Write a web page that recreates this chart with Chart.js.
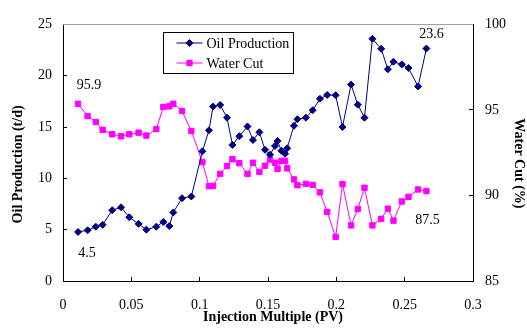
<!DOCTYPE html>
<html>
<head>
<meta charset="utf-8">
<script src="https://cdn.jsdelivr.net/npm/chart.js@4"></script>
<style>
  body { margin: 0; background: #fff; }
</style>
</head>
<body>
<canvas id="chart" width="527" height="334"></canvas>
<script>
// Data
var pvValues = [0.011, 0.018, 0.024, 0.029, 0.036, 0.0425, 0.0485, 0.0553, 0.061, 0.0683,
    0.0734, 0.0778, 0.0807, 0.0871, 0.0939, 0.102, 0.1068, 0.1098, 0.115, 0.12,
    0.124, 0.129, 0.135, 0.139, 0.1437, 0.1478, 0.1515, 0.1551, 0.157, 0.1598,
    0.1625, 0.164, 0.169, 0.1715, 0.1777, 0.1827, 0.188, 0.1933, 0.1995, 0.2045,
    0.2108, 0.2157, 0.2206, 0.2264, 0.2328, 0.2377, 0.2418, 0.2479, 0.2528, 0.2598, 0.2659];

var oilProduction = [4.78, 4.94, 5.29, 5.48, 6.90, 7.18, 6.21, 5.57, 5.00, 5.29,
    5.76, 5.35, 6.68, 8.07, 8.23, 12.63, 14.68, 16.99, 17.15, 15.91,
    13.26, 14.11, 15.06, 13.73, 14.49, 12.78, 12.31, 13.16, 13.64, 12.69,
    12.40, 12.94, 15.12, 15.76, 15.91, 16.64, 17.75, 18.13, 18.10, 15.00,
    19.14, 17.18, 15.91, 23.60, 22.62, 20.63, 21.36, 21.10, 20.75, 18.95, 22.65];

var waterCut = [95.36, 94.64, 94.30, 93.84, 93.58, 93.46, 93.58, 93.67, 93.50, 93.88,
    95.17, 95.21, 95.36, 94.94, 93.77, 91.95, 90.54, 90.56, 91.26, 91.72,
    92.12, 91.89, 91.26, 91.91, 91.38, 91.74, 92.10, 91.91, 91.55, 92.02,
    92.02, 91.59, 90.94, 90.60, 90.68, 90.62, 90.18, 89.04, 87.58, 90.66,
    88.25, 89.21, 90.45, 88.25, 88.63, 89.23, 88.53, 89.65, 89.92, 90.35, 90.26];

var seriesNames = ['Oil Production', 'Water Cut'];
var xTitle = 'Injection Multiple (PV)';
var yTitle = 'Oil Production (t/d)';
var y2Title = 'Water Cut (%)';

// value labels written next to points: text, dataset, point index
var noteTexts = ['95.9', '4.5', '23.6', '87.5'];
var noteSeries = [1, 0, 0, 1];
var notePoints = [0, 0, 50, 50];

var serif = "'Liberation Serif', 'Times New Roman', serif";

function toPoints(xs, ys) {
    var pts = [];
    for (var i = 0; i < xs.length; i++) {
        pts.push({x: xs[i], y: ys[i]});
    }
    return pts;
}

// gray top frame line
var frameTop = {
    id: 'frameTop',
    beforeDatasetsDraw: function(chart) {
        var a = chart.chartArea, ctx = chart.ctx;
        ctx.save();
        ctx.strokeStyle = '#a0a0a0';
        ctx.lineWidth = 1;
        ctx.beginPath();
        ctx.moveTo(a.left, Math.round(a.top) + 0.5);
        ctx.lineTo(a.right, Math.round(a.top) + 0.5);
        ctx.stroke();
        ctx.restore();
    }
};

// axis titles, value notes and the boxed legend
var extras = {
    id: 'extras',
    afterDraw: function(chart) {
        var ctx = chart.ctx, a = chart.chartArea;
        ctx.save();
        ctx.fillStyle = '#000';
        ctx.textAlign = 'center';
        ctx.textBaseline = 'middle';

        ctx.font = 'bold 14px ' + serif;
        ctx.fillText(xTitle, a.left + 210, a.bottom + 36);
        ctx.save();
        ctx.translate(18, a.top + 140);
        ctx.rotate(-Math.PI / 2);
        ctx.fillText(yTitle, 0, 0);
        ctx.restore();
        ctx.save();
        ctx.translate(519, a.top + 139);
        ctx.rotate(Math.PI / 2);
        ctx.fillText(y2Title, 0, 0);
        ctx.restore();

        // notes
        var offs = [[11, -18], [9, 21], [5, -14], [1, 29]];
        ctx.font = '14px ' + serif;
        for (var i = 0; i < noteTexts.length; i++) {
            var p = chart.getDatasetMeta(noteSeries[i]).data[notePoints[i]];
            ctx.fillText(noteTexts[i], p.x + offs[i][0], p.y + offs[i][1]);
        }

        // legend
        var bx = Math.round(a.left + 100) + 0.5, by = Math.round(a.top + 8) + 0.5;
        ctx.fillStyle = '#fff';
        ctx.fillRect(bx, by, 130, 41);
        ctx.strokeStyle = '#000';
        ctx.lineWidth = 1;
        ctx.strokeRect(bx, by, 130, 41);
        ctx.textAlign = 'left';
        chart.data.datasets.forEach(function(ds, k) {
            var ry = by + 10.5 + k * 20;
            ctx.strokeStyle = ds.borderColor;
            ctx.beginPath();
            ctx.moveTo(bx + 13, ry);
            ctx.lineTo(bx + 39, ry);
            ctx.stroke();
            ctx.fillStyle = ds.pointBackgroundColor;
            Chart.helpers.drawPoint(ctx, {pointStyle: ds.pointStyle, radius: ds.pointRadius, rotation: 0, borderWidth: 1}, bx + 26, ry);
            ctx.fillStyle = '#000';
            ctx.fillText(ds.label, bx + 43, ry + 1);
        });
        ctx.restore();
    }
};

var ctx = document.getElementById('chart');

var myChart = new Chart(ctx, {
    type: 'line',
    data: {
        datasets: [
            {
                label: seriesNames[0],
                data: toPoints(pvValues, oilProduction),
                yAxisID: 'y',
                borderColor: '#000080',
                backgroundColor: '#000080',
                pointBackgroundColor: '#000080',
                pointBorderColor: '#000080',
                pointStyle: 'rectRot',
                pointRadius: 3.5,
                pointBorderWidth: 1,
                borderWidth: 1,
                fill: false,
                tension: 0
            },
            {
                label: seriesNames[1],
                data: toPoints(pvValues, waterCut),
                yAxisID: 'y2',
                borderColor: '#ff00ff',
                backgroundColor: '#ff00ff',
                pointBackgroundColor: '#ff00ff',
                pointBorderColor: '#ff00ff',
                pointStyle: 'rect',
                pointRadius: 3.8,
                pointBorderWidth: 1,
                borderWidth: 1,
                fill: false,
                tension: 0
            }
        ]
    },
    options: {
        responsive: false,
        animation: false,
        devicePixelRatio: 1,
        layout: { padding: { top: 17, left: 0, right: 0, bottom: 0 } },
        plugins: {
            legend: { display: false },
            tooltip: { enabled: false }
        },
        scales: {
            x: {
                type: 'linear',
                min: 0,
                max: 0.3,
                ticks: {
                    stepSize: 0.05,
                    color: '#000',
                    font: { family: serif, size: 14 },
                    padding: 20,
                    maxRotation: 0,
                    callback: function(value) {
                        return String(Number(value.toFixed(2)));
                    }
                },
                grid: { drawOnChartArea: false, tickLength: -4, color: '#000' },
                border: { color: '#000', width: 1 },
                afterFit: function(scale) { scale.height = 53; }
            },
            y: {
                position: 'left',
                min: 0,
                max: 25,
                ticks: {
                    stepSize: 5,
                    color: '#000',
                    font: { family: serif, size: 14 },
                    padding: 15
                },
                grid: { drawOnChartArea: false, tickLength: -4, color: '#000' },
                border: { color: '#000', width: 1 },
                afterFit: function(scale) { scale.width = 63; }
            },
            y2: {
                position: 'right',
                min: 85,
                max: 100,
                ticks: {
                    stepSize: 5,
                    color: '#000',
                    font: { family: serif, size: 14 },
                    padding: 16
                },
                grid: { drawOnChartArea: false, tickLength: -4, color: '#000' },
                border: { color: '#000', width: 1 },
                afterFit: function(scale) { scale.width = 54; }
            }
        }
    },
    plugins: [frameTop, extras]
});
</script>
</body>
</html>
